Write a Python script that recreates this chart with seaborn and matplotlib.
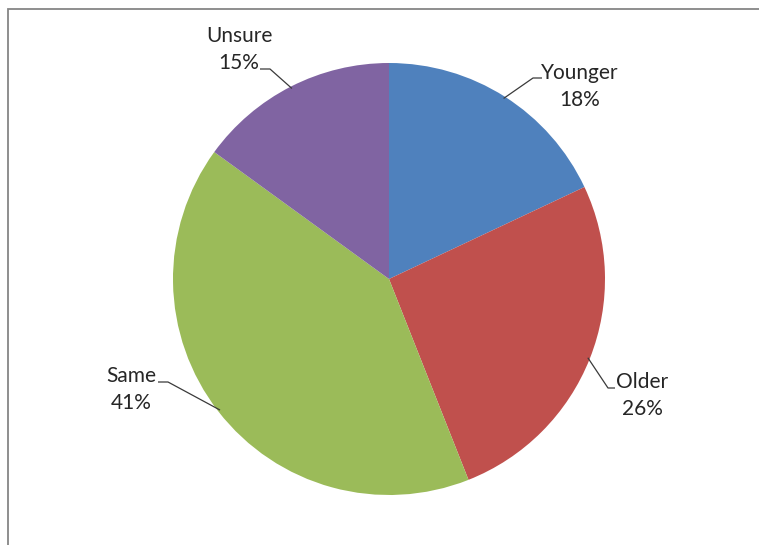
import numpy as np
import matplotlib
matplotlib.use("Agg")
import matplotlib.pyplot as plt
from matplotlib.patches import Rectangle
import seaborn as sns

# Survey answers and their shares (percent)
categories = ["Younger", "Older", "Same", "Unsure"]
shares = [18, 26, 41, 15]
slice_colors = ["#4F81BD", "#C0504D", "#9BBB59", "#8064A2"]

W, H = 759, 545

sns.set_theme(style="white")
plt.rcParams["font.family"] = ["Lato", "DejaVu Sans"]

fig = plt.figure(figsize=(W / 100, H / 100), dpi=100)
ax = fig.add_axes([0, 0, 1, 1])


def px(x, y):
    """Pixel position (origin top-left) to axes data coordinates."""
    return x, H - y


center = px(389, 279)
radius = 216

wedges, _ = ax.pie(
    shares,
    colors=sns.color_palette(slice_colors),
    startangle=90,
    counterclock=False,
    center=center,
    radius=radius,
    wedgeprops=dict(linewidth=0),
)

# Label layout: text centre x, first baseline, leader elbow and leader end
label_layout = {
    "Younger": dict(x=580, y=79, elbow=(533, 78), end=(542, 78)),
    "Older": dict(x=642, y=388, elbow=(608, 388), end=(615, 388)),
    "Same": dict(x=131, y=382, elbow=(168, 382), end=(158, 382)),
    "Unsure": dict(x=239, y=42, elbow=(270, 69), end=(260, 69)),
}
line_gap = 27

for wedge, name, value in zip(wedges, categories, shares):
    lay = label_layout[name]
    mid = np.deg2rad((wedge.theta1 + wedge.theta2) / 2)
    ax_x = center[0] + radius * 0.99 * np.cos(mid)
    ax_y = center[1] + radius * 0.99 * np.sin(mid)
    ex, ey = px(*lay["elbow"])
    tx, ty = px(*lay["end"])
    ax.plot([ax_x, ex, tx], [ax_y, ey, ty], color="#3a3a3a", lw=0.9,
            solid_capstyle="butt", zorder=3)
    lx, ly = px(lay["x"], lay["y"])
    ax.text(lx, ly, name, ha="center", va="baseline", fontsize=15,
            color="#262626")
    ax.text(lx, ly - line_gap, f"{value}%", ha="center", va="baseline",
            fontsize=15, color="#262626")

# Chart-area frame
fx, fy = px(7.5, 8.5)
ax.add_patch(Rectangle((fx, -50), W + 50, fy + 50, fill=False,
                       edgecolor="#868686", lw=1.3, zorder=5))

ax.set_xlim(0, W)
ax.set_ylim(0, H)
ax.set_aspect("equal")
ax.axis("off")

fig.savefig("out.png", dpi=100, facecolor="white")
